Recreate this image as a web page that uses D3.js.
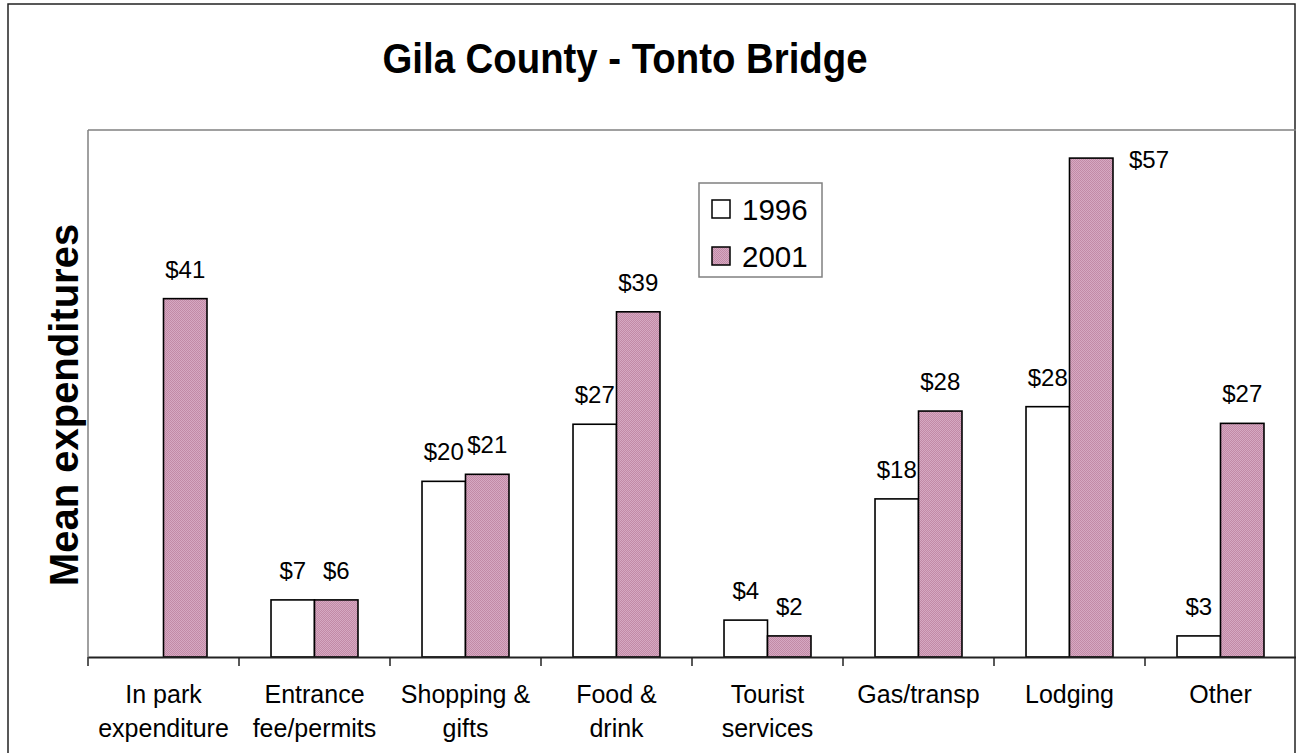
<!DOCTYPE html>
<html>
<head>
<meta charset="utf-8">
<script src="https://cdn.jsdelivr.net/npm/d3@7"></script>
<style>
  html, body { margin: 0; padding: 0; background: #fff; }
  svg { display: block; font-family: "Liberation Sans", Arial, sans-serif; }
</style>
</head>
<body>
<svg id="chart" width="1296" height="753"></svg>
<script>
// ---- data ----
const categories = [
  ["In park", "expenditure"],
  ["Entrance", "fee/permits"],
  ["Shopping &", "gifts"],
  ["Food &", "drink"],
  ["Tourist", "services"],
  ["Gas/transp"],
  ["Lodging"],
  ["Other"]
];
const seriesNames = ["1996", "2001"];
const values1996 = [0, 6.5, 20.0, 26.5, 4.2, 18.0, 28.5, 2.4];
const values2001 = [40.8, 6.5, 20.8, 39.3, 2.4, 28.0, 56.8, 26.6];
const labels1996 = ["", "$7", "$20", "$27", "$4", "$18", "$28", "$3"];
const labels2001 = ["$41", "$6", "$21", "$39", "$2", "$28", "$57", "$27"];
const yDomain = [0, 60];

// ---- layout ----
const svg = d3.select("#chart");
const W = 1296, H = 753;
const plot = { left: 88, top: 130, right: 1296, bottom: 657 };

const defs = svg.append("defs");
const pat = defs.append("pattern").attr("id", "pinkPat")
  .attr("patternUnits", "userSpaceOnUse").attr("width", 2).attr("height", 2);
pat.append("rect").attr("width", 2).attr("height", 2).attr("fill", "#d6a9c2");
pat.append("rect").attr("width", 1).attr("height", 1).attr("fill", "#c28aa6");
pat.append("rect").attr("x", 1).attr("y", 1).attr("width", 1).attr("height", 1).attr("fill", "#c28aa6");

svg.append("rect").attr("width", W).attr("height", H).attr("fill", "#fff");
// outer chart border
svg.append("rect").attr("x", 8).attr("y", 4).attr("width", 1287).attr("height", 760)
  .attr("fill", "none").attr("stroke", "#222").attr("stroke-width", 1.5);

const catKeys = categories.map((c, i) => i);
const x0 = d3.scaleBand().domain(catKeys).range([plot.left, plot.right]).paddingInner(0).paddingOuter(0);
const bw = x0.bandwidth();
const x1 = d3.scaleBand().domain(seriesNames).range([bw * 0.212, bw * 0.788]).padding(0);
const y = d3.scaleLinear().domain(yDomain).range([plot.bottom, plot.top]);

// plot area border (top & left gray)
svg.append("line").attr("x1", plot.left).attr("x2", plot.right).attr("y1", plot.top).attr("y2", plot.top)
  .attr("stroke", "#808080").attr("stroke-width", 1.5);
svg.append("line").attr("x1", plot.left).attr("x2", plot.left).attr("y1", plot.top).attr("y2", plot.bottom)
  .attr("stroke", "#808080").attr("stroke-width", 1.5);

// title
svg.append("text").attr("x", 625).attr("y", 73).attr("text-anchor", "middle")
  .attr("font-size", 42).attr("font-weight", "bold")
  .attr("textLength", 485).attr("lengthAdjust", "spacingAndGlyphs")
  .text("Gila County - Tonto Bridge");

// y-axis title
svg.append("text").attr("transform", "translate(78,405) rotate(-90)")
  .attr("text-anchor", "middle").attr("font-size", 40).attr("font-weight", "bold")
  .text("Mean expenditures");

// bars
const rows = catKeys.map(i => ({
  i,
  bars: [
    { s: "1996", v: values1996[i], lab: labels1996[i], fill: "#fff" },
    { s: "2001", v: values2001[i], lab: labels2001[i], fill: "url(#pinkPat)" }
  ]
}));

const g = svg.append("g");
const groups = g.selectAll("g.cat").data(rows).join("g")
  .attr("class", "cat").attr("transform", d => `translate(${x0(d.i)},0)`);

groups.selectAll("rect").data(d => d.bars.filter(b => b.v > 0)).join("rect")
  .attr("x", b => x1(b.s)).attr("width", x1.bandwidth())
  .attr("y", b => y(b.v)).attr("height", b => y(0) - y(b.v))
  .attr("fill", b => b.fill).attr("stroke", "#000").attr("stroke-width", 1.6);

groups.selectAll("text.val").data(d => d.bars.filter(b => b.lab)).join("text")
  .attr("class", "val").attr("font-size", 24)
  .each(function (b) {
    const t = d3.select(this);
    const cx = x1(b.s) + x1.bandwidth() / 2;
    const by = y(b.v) - 21;
    if (by - 18 < plot.top) {
      t.attr("x", x1(b.s) + x1.bandwidth() + 16).attr("y", y(b.v) + 10).attr("text-anchor", "start");
    } else {
      t.attr("x", cx).attr("y", by).attr("text-anchor", "middle");
    }
  })
  .text(b => b.lab);

// x axis
const xAxis = d3.axisBottom(x0).tickSize(0).tickFormat("");
const axG = svg.append("g").attr("transform", `translate(0,${plot.bottom})`).call(xAxis);
axG.select(".domain").attr("stroke", "#222").attr("stroke-width", 2);
// category boundary ticks
axG.selectAll("line.bound").data(catKeys).join("line").attr("class", "bound")
  .attr("x1", i => x0(i)).attr("x2", i => x0(i)).attr("y1", 0).attr("y2", 9)
  .attr("stroke", "#222").attr("stroke-width", 1.5);

// category labels
const catG = svg.append("g");
catKeys.forEach(i => {
  const t = catG.append("text").attr("text-anchor", "middle").attr("font-size", 25)
    .attr("x", x0(i) + bw / 2).attr("y", 703);
  categories[i].forEach((line, k) => {
    t.append("tspan").attr("x", x0(i) + bw / 2).attr("dy", k === 0 ? 0 : 34).text(line);
  });
});

// legend
const leg = svg.append("g");
leg.append("rect").attr("x", 699).attr("y", 183).attr("width", 123).attr("height", 94)
  .attr("fill", "#fff").attr("stroke", "#808080").attr("stroke-width", 1.5);
const legItems = [
  { name: seriesNames[0], fill: "#fff", y: 200 },
  { name: seriesNames[1], fill: "url(#pinkPat)", y: 247 }
];
legItems.forEach(it => {
  leg.append("rect").attr("x", 712).attr("y", it.y).attr("width", 18).attr("height", 18)
    .attr("fill", it.fill).attr("stroke", "#000").attr("stroke-width", 1.5);
  leg.append("text").attr("x", 742).attr("y", it.y + 20).attr("font-size", 29.5).text(it.name);
});
</script>
</body>
</html>
